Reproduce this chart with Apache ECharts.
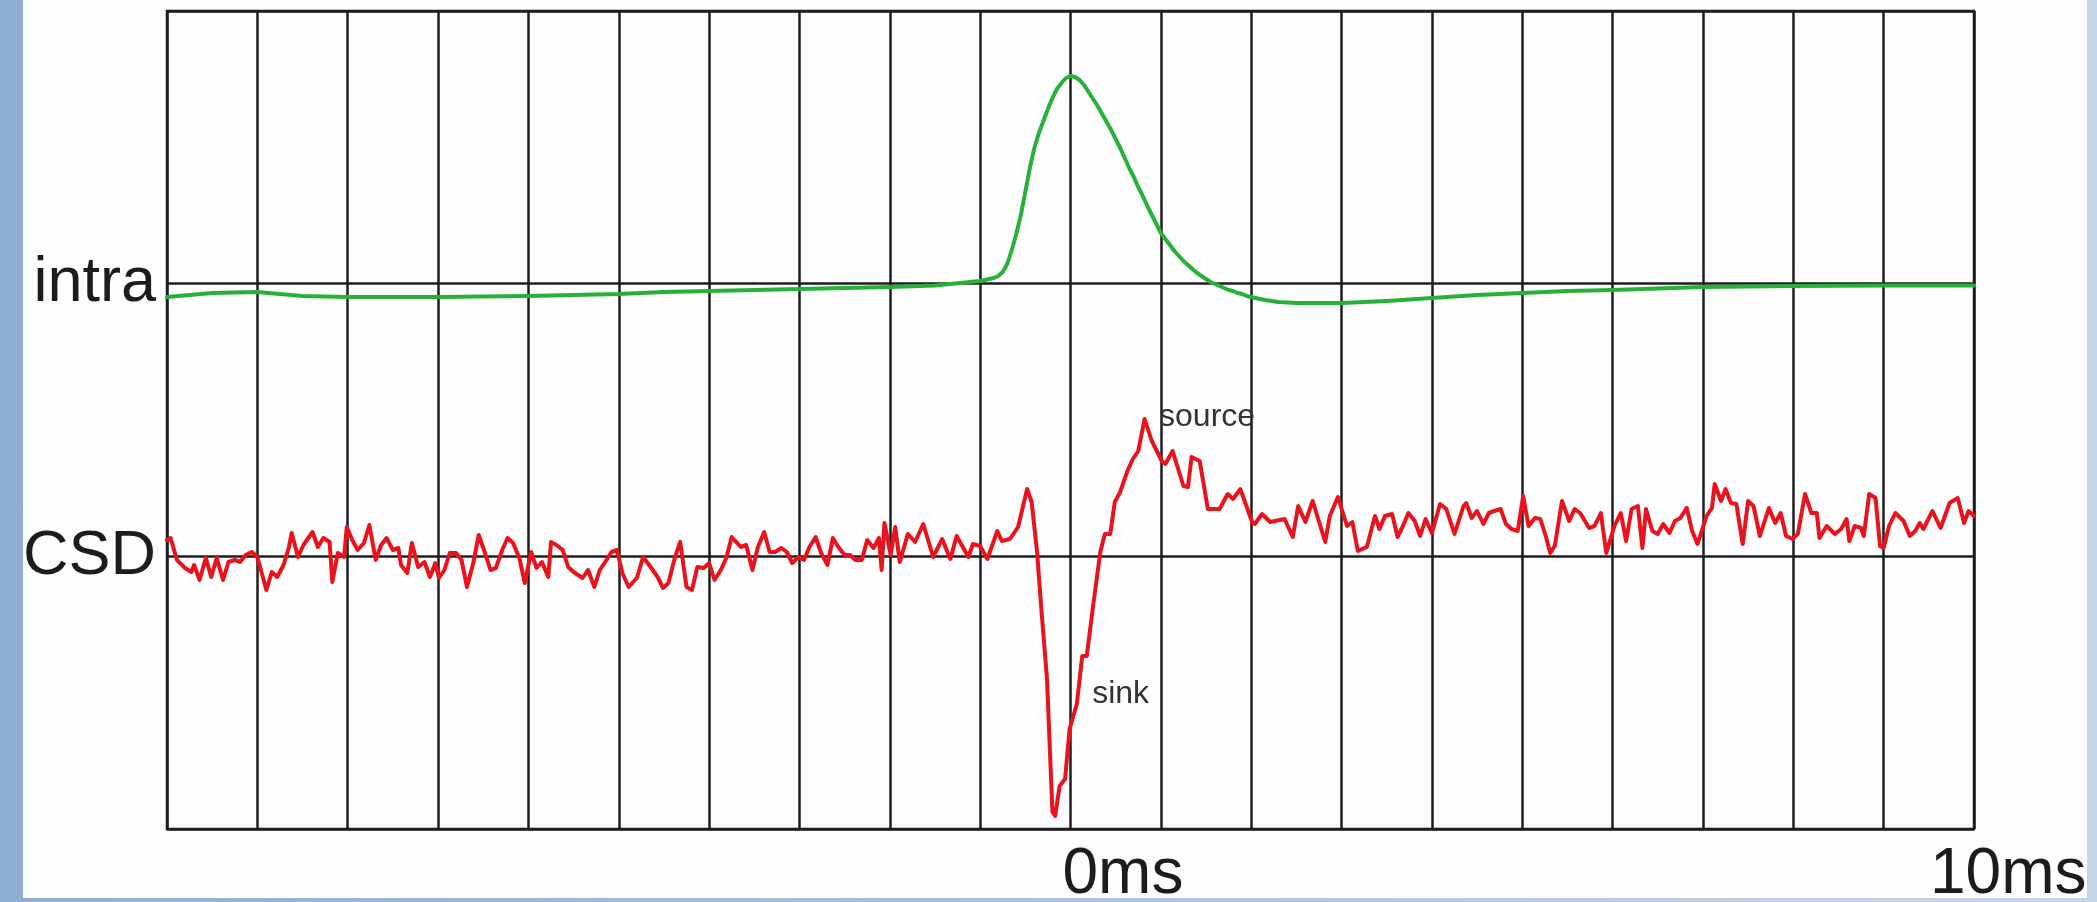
<!DOCTYPE html>
<html>
<head>
<meta charset="utf-8">
<script src="https://cdn.jsdelivr.net/npm/echarts@6/dist/echarts.min.js"></script>
<style>
  html, body { margin: 0; padding: 0; width: 2097px; height: 902px; overflow: hidden; }
  body { background: linear-gradient(90deg, #8eaed2 0%, #a9c2de 50%, #c6d7ea 100%); position: relative; }
  #paper { position: absolute; left: 23px; top: 0; width: 2064px; height: 898px; background: #fdfdfd; }
  #chart { position: absolute; left: 0; top: 0; width: 2097px; height: 902px; }
</style>
</head>
<body>
<div id="paper"></div>
<div id="chart"></div>
<script>
// ---- data ----
// time axis (ms) and row labels
const timeTicks = [0, 10];
const rowLabels = { 1: 'CSD', 2: 'intra' };

// intracellular trace (relative amplitude, arbitrary units)
const intraT = [-10,-9.5,-9,-8.5,-8,-7,-6,-5,-4.5,-4,-3,-2,-1.5,
  -1.00,-0.95,-0.90,-0.85,-0.80,-0.75,-0.70,-0.65,-0.60,-0.55,-0.50,-0.45,-0.40,-0.35,-0.30,-0.25,-0.20,-0.15,-0.10,-0.05,
  0.00,0.05,0.10,0.15,0.20,0.25,0.30,0.35,0.40,0.45,0.50,0.55,0.60,0.65,0.70,0.75,0.80,0.85,0.90,0.95,
  1.00,1.05,1.10,1.15,1.20,1.25,1.30,1.35,1.40,1.45,1.50,1.55,1.60,1.65,1.70,1.75,1.80,1.85,1.90,1.95,
  2.00,2.15,2.3,2.5,2.75,3.0,3.5,4.0,4.5,5,5.5,6,6.5,7,7.5,8,9,10];
const intraV = [-13,-9,-8,-12,-13,-13,-12,-10,-8,-7,-5,-3,-1.5,
  3,4,5,6,8,12,20,34,50,69,92,116,136,151,163,175,186,195,201,206,
  208,207,204,199,192,185,178,170,162,154,145,136,126,116,107,97,88,78,69,60,
  51,45,39,33,28,23,19,15,11,8,5,2,0,-2,-4,-6,-7,-9,-10,-12,
  -13,-16,-18,-19,-19,-19,-17,-14,-11,-9,-7,-6,-4.5,-3,-2.5,-2,-1.5,-1.5];

// CSD trace [time ms, relative amplitude]
const csdPoints = [
[-10.00,16],[-9.96,18],[-9.89,-4],[-9.80,-12],[-9.73,-16],[-9.70,-9],[-9.64,-24],[-9.57,-2],[-9.51,-21],[-9.45,-2],
[-9.38,-24],[-9.32,-6],[-9.25,-4],[-9.19,-6],[-9.13,1],[-9.06,4],[-9.00,-1],[-8.90,-34],[-8.84,-16],[-8.78,-21],
[-8.71,-9],[-8.65,9],[-8.62,23],[-8.55,-1],[-8.49,11],[-8.39,24],[-8.33,9],[-8.27,18],[-8.20,14],[-8.17,-26],
[-8.11,3],[-8.04,-1],[-8.01,29],[-7.95,16],[-7.89,6],[-7.82,13],[-7.76,31],[-7.69,-4],[-7.63,11],[-7.57,18],
[-7.50,6],[-7.44,8],[-7.41,-9],[-7.34,-17],[-7.29,13],[-7.22,-11],[-7.15,-6],[-7.09,-21],[-7.03,-7],[-6.99,-22],
[-6.93,-14],[-6.87,3],[-6.80,3],[-6.74,-4],[-6.68,-31],[-6.61,-7],[-6.55,21],[-6.48,3],[-6.42,-14],[-6.36,-12],
[-6.29,6],[-6.23,18],[-6.17,13],[-6.10,-2],[-6.04,-27],[-5.97,4],[-5.91,-12],[-5.85,-6],[-5.78,-21],[-5.75,14],
[-5.69,11],[-5.62,6],[-5.56,-11],[-5.50,-16],[-5.40,-22],[-5.34,-14],[-5.27,-31],[-5.21,-14],[-5.15,-6],[-5.08,4],
[-5.02,6],[-4.96,-17],[-4.89,-31],[-4.80,-22],[-4.73,-1],[-4.64,-12],[-4.57,-21],[-4.51,-32],[-4.45,-27],[-4.38,-2],
[-4.32,14],[-4.25,-31],[-4.19,-34],[-4.13,-11],[-4.06,-12],[-4.00,-7],[-3.94,-24],[-3.87,-14],[-3.81,-2],[-3.75,19],
[-3.65,9],[-3.59,11],[-3.52,-14],[-3.46,9],[-3.39,24],[-3.33,4],[-3.27,4],[-3.20,8],[-3.14,4],[-3.08,-7],
[-3.01,-1],[-2.95,-4],[-2.89,9],[-2.82,19],[-2.76,3],[-2.69,-9],[-2.63,18],[-2.57,9],[-2.50,1],[-2.44,1],
[-2.38,-4],[-2.31,-4],[-2.25,16],[-2.18,8],[-2.12,18],[-2.09,-14],[-2.06,33],[-1.99,1],[-1.94,29],[-1.89,-6],
[-1.80,22],[-1.72,14],[-1.63,32],[-1.52,-1],[-1.42,17],[-1.33,-3],[-1.26,20],[-1.13,-1],[-1.08,12],[-1.00,10],
[-0.92,-3],[-0.81,25],[-0.76,15],[-0.67,17],[-0.58,29],[-0.48,67],[-0.43,54],[-0.37,4],[-0.32,-56],[-0.26,-123],
[-0.20,-256],[-0.17,-260],[-0.12,-230],[-0.06,-223],[-0.01,-173],[0.07,-148],[0.13,-100],[0.18,-100],[0.25,-50],[0.33,4],
[0.38,22],[0.44,22],[0.49,54],[0.55,64],[0.63,85],[0.69,97],[0.75,105],[0.82,137],[0.90,115],[1.01,95],
[1.05,92],[1.13,105],[1.25,70],[1.30,69],[1.34,99],[1.43,95],[1.52,47],[1.65,47],[1.74,62],[1.80,57],
[1.88,67],[2.01,34],[2.04,32],[2.12,42],[2.21,34],[2.37,37],[2.46,19],[2.52,50],[2.60,34],[2.68,55],
[2.82,14],[2.87,40],[2.96,59],[3.06,30],[3.12,34],[3.18,5],[3.28,9],[3.37,40],[3.42,27],[3.48,40],
[3.56,42],[3.62,19],[3.68,30],[3.74,43],[3.81,35],[3.87,20],[3.93,37],[4.00,23],[4.09,52],[4.16,47],
[4.25,22],[4.35,50],[4.38,53],[4.44,38],[4.50,45],[4.57,32],[4.63,43],[4.69,45],[4.76,47],[4.82,32],
[4.88,27],[4.95,25],[5.01,60],[5.07,30],[5.14,38],[5.20,37],[5.26,20],[5.31,3],[5.36,10],[5.44,55],
[5.52,35],[5.58,47],[5.64,43],[5.74,28],[5.80,30],[5.87,43],[5.93,3],[6.02,30],[6.09,43],[6.15,15],
[6.21,47],[6.28,50],[6.33,8],[6.37,47],[6.44,25],[6.50,22],[6.56,32],[6.63,23],[6.69,35],[6.75,38],
[6.82,48],[6.88,25],[6.94,12],[7.04,40],[7.10,48],[7.13,72],[7.20,55],[7.25,67],[7.31,53],[7.37,52],
[7.44,12],[7.50,55],[7.56,50],[7.63,20],[7.73,48],[7.80,33],[7.86,43],[7.92,20],[7.99,17],[8.05,22],
[8.13,62],[8.20,43],[8.26,43],[8.29,18],[8.37,30],[8.46,22],[8.53,27],[8.59,37],[8.62,15],[8.68,30],
[8.75,28],[8.78,20],[8.84,62],[8.91,58],[8.96,10],[9.00,8],[9.06,30],[9.13,43],[9.22,35],[9.29,20],
[9.35,25],[9.40,33],[9.44,27],[9.54,45],[9.63,28],[9.73,53],[9.82,58],[9.89,33],[9.94,45],[10.00,40]
];

// annotations on the CSD trace [label, time ms, amplitude]
const annotations = [['source', 0.98, 139], ['sink', 0.24, -138]];

// ---- chart ----
const FONT = '"Liberation Sans", Arial, Helvetica, sans-serif';
const INK = '#1c1c1c';
const GRID = '#1e1e1e';
const chart = echarts.init(document.getElementById('chart'), null, { renderer: 'canvas' });

const option = {
  animation: false,
  backgroundColor: 'transparent',
  grid: { left: 167, right: 123, top: 11, bottom: 73, show: true, borderColor: GRID, borderWidth: 2.5, backgroundColor: 'transparent' },
  xAxis: {
    type: 'value', min: -10, max: 10, interval: 1,
    axisLine: { show: false }, axisTick: { show: false }, axisLabel: { show: false },
    splitLine: { show: true, lineStyle: { color: GRID, width: 2.5 } }
  },
  yAxis: [
    {
      type: 'value', min: 0, max: 3, interval: 1,
      axisLine: { show: false }, axisTick: { show: false },
      axisLabel: {
        show: true, margin: 11, fontSize: 63, fontFamily: FONT, color: INK,
        formatter: v => rowLabels[v] || ''
      },
      splitLine: { show: true, lineStyle: { color: GRID, width: 2.5 } }
    },
    { type: 'value', min: -545, max: 273, show: false, splitLine: { show: false } },
    { type: 'value', min: -273, max: 545, show: false, splitLine: { show: false } }
  ],
  series: [
    {
      name: 'intra', type: 'line', yAxisIndex: 1, smooth: false, showSymbol: false, symbol: 'none',
      lineStyle: { color: '#27b13a', width: 4, join: 'round', cap: 'round' },
      data: intraT.map((t, i) => [t, intraV[i]]), z: 3
    },
    {
      name: 'CSD', type: 'line', yAxisIndex: 2, showSymbol: false, symbol: 'none',
      lineStyle: { color: '#e8131d', width: 4, join: 'round', cap: 'round' },
      data: csdPoints, z: 4,
      markPoint: {
        symbol: 'circle', symbolSize: 0, silent: true,
        label: { show: true, position: 'right', distance: 0, fontSize: 32, fontFamily: FONT, color: '#333', formatter: p => p.name },
        data: annotations.map(a => ({ name: a[0], coord: [a[1], a[2]] }))
      }
    }
  ]
};
chart.setOption(option);

// time labels under the axis, anchored on the axis ticks
const offsets = { 0: -8, 10: -44 };
const graphics = timeTicks.map(t => ({
  type: 'text',
  left: chart.convertToPixel({ xAxisIndex: 0 }, t) + offsets[t],
  top: 843,
  style: { text: t + 'ms', font: '64px ' + FONT, fill: INK }
}));
chart.setOption({ graphic: graphics });
</script>
</body>
</html>
